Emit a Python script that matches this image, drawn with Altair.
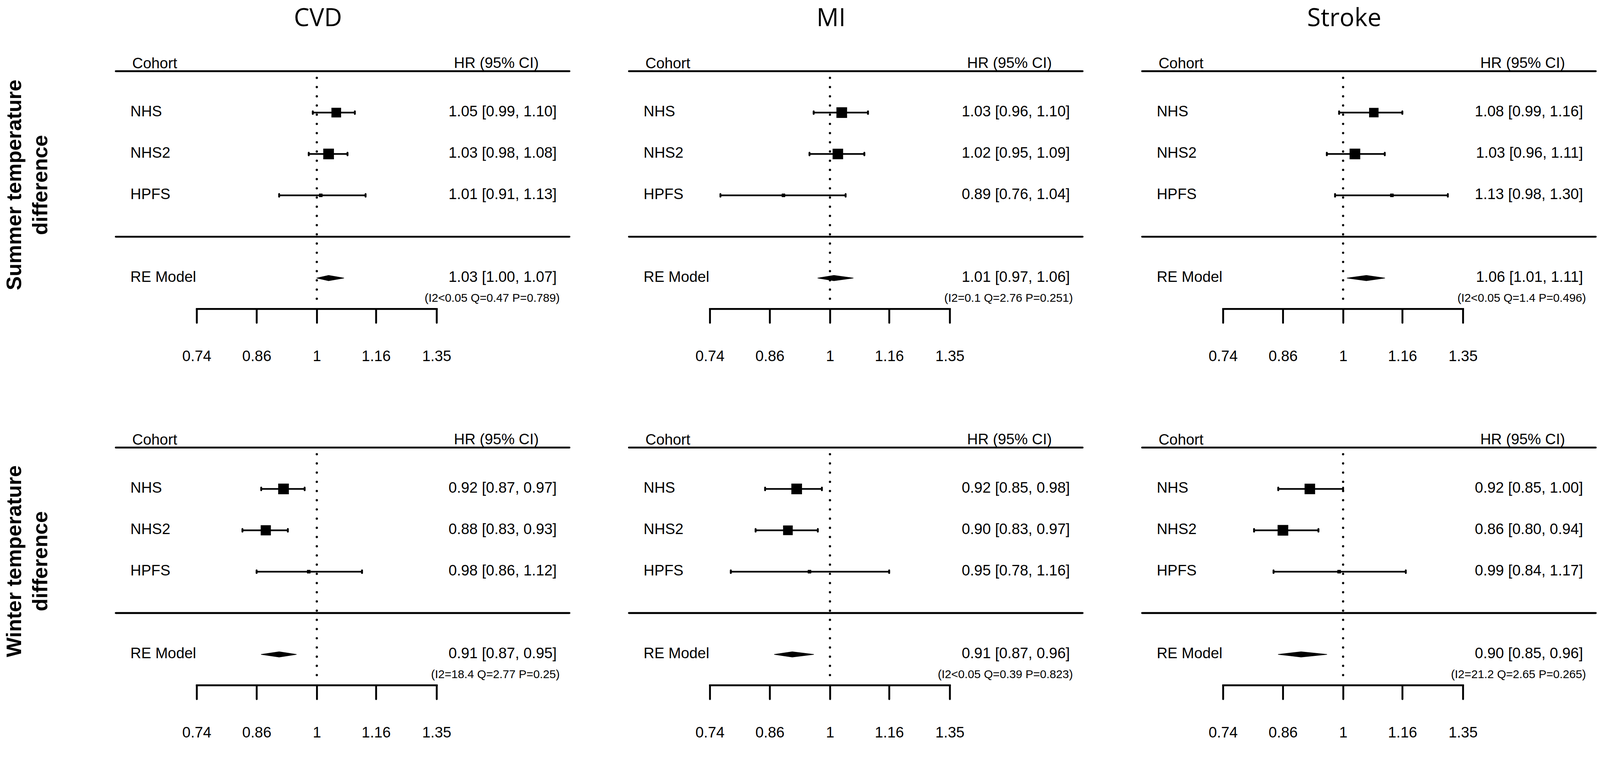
import altair as alt
import pandas as pd

# ---------------- data ----------------
outcomes = ["CVD", "MI", "Stroke"]
exposure_lines = [["Summer temperature", "difference"], ["Winter temperature", "difference"]]
cohorts = ["NHS", "NHS2", "HPFS"]
tick_values = [0.74, 0.86, 1, 1.16, 1.35]

# per outcome (CVD, MI, Stroke) -> per cohort (NHS, NHS2, HPFS)
summer_est = [[1.05, 1.03, 1.01], [1.03, 1.02, 0.89], [1.08, 1.03, 1.13]]
summer_lo = [[0.99, 0.98, 0.91], [0.96, 0.95, 0.76], [0.99, 0.96, 0.98]]
summer_hi = [[1.10, 1.08, 1.13], [1.10, 1.09, 1.04], [1.16, 1.11, 1.30]]
summer_weight = [[1.36, 1.50, 0.50], [1.50, 1.48, 0.50], [1.33, 1.50, 0.50]]
# RE model: [estimate, lower, upper]
summer_re = [[1.03, 1.00, 1.07], [1.01, 0.97, 1.06], [1.06, 1.01, 1.11]]
summer_het = ["(I2<0.05 Q=0.47 P=0.789)", "(I2=0.1 Q=2.76 P=0.251)", "(I2<0.05 Q=1.4 P=0.496)"]

winter_est = [[0.92, 0.88, 0.98], [0.92, 0.90, 0.95], [0.92, 0.86, 0.99]]
winter_lo = [[0.87, 0.83, 0.86], [0.85, 0.83, 0.78], [0.85, 0.80, 0.84]]
winter_hi = [[0.97, 0.93, 1.12], [0.98, 0.97, 1.16], [1.00, 0.94, 1.17]]
winter_weight = [[1.50, 1.43, 0.50], [1.50, 1.36, 0.50], [1.48, 1.50, 0.50]]
winter_re = [[0.91, 0.87, 0.95], [0.91, 0.87, 0.96], [0.90, 0.85, 0.96]]
winter_het = ["(I2=18.4 Q=2.77 P=0.25)", "(I2<0.05 Q=0.39 P=0.823)", "(I2=21.2 Q=2.65 P=0.265)"]

EST = [summer_est, winter_est]
LO = [summer_lo, winter_lo]
HI = [summer_hi, winter_hi]
WT = [summer_weight, winter_weight]
RE = [summer_re, winter_re]
HET = [summer_het, winter_het]

# ---------------- layout / style ----------------
FONT = "Liberation Sans"
TITLE_FONT = "Open Sans"
W = 1212
H = 635
ROW_PX = 110.6          # pixels per row unit (H / (4 + 1.742))
DIAMOND_HALF = 7 / ROW_PX
study_rows = [3, 2, 1]
re_row = -1
sep_rows = [4, 0]


def fmt_ci(e, l, h):
    return f"{e:.2f} [{l:.2f}, {h:.2f}]"


def panel(ei, oi):
    xs = alt.Scale(type="log", domain=[0.74, 1.35], range=[216, 857], nice=False)
    ys = alt.Scale(domain=[-1.742, 4], nice=False, zero=False)
    xax = alt.Axis(values=tick_values, format="~g", title=None, grid=False,
                   domainWidth=5, domainColor="black", domainCap="square",
                   tickWidth=5, tickColor="black", tickSize=37, tickCap="round",
                   labelFontSize=40, labelFont=FONT, labelColor="black",
                   labelPadding=70, labelFlush=False, labelOverlap=False,
                   labelBound=False, orient="bottom")

    est = EST[ei][oi]
    lo = LO[ei][oi]
    hi = HI[ei][oi]
    wt = WT[ei][oi]
    re_est, re_lo, re_hi = RE[ei][oi]

    studies = pd.DataFrame({
        "cohort": cohorts, "row": study_rows, "est": est, "lo": lo, "hi": hi,
        "w": wt, "txt": [fmt_ci(e, l, h) for e, l, h in zip(est, lo, hi)],
    })
    re_df = pd.DataFrame({"row": [re_row], "lab": ["RE Model"],
                          "txt": [fmt_ci(re_est, re_lo, re_hi)], "het": [HET[ei][oi]]})
    dia = pd.DataFrame({"dx": [re_lo, re_est, re_hi],
                        "ytop": [re_row, re_row + DIAMOND_HALF, re_row],
                        "ybot": [re_row, re_row - DIAMOND_HALF, re_row]})
    lines = pd.DataFrame({"row": sep_rows})
    ref = pd.DataFrame({"ref": [1], "y1": [3.84], "y2": [-1.5]})
    hdr = pd.DataFrame({"row": [4]})

    Y = lambda f: alt.Y(f, scale=ys, axis=None)
    X = lambda f: alt.X(f, scale=xs, axis=xax)

    layers = []
    layers.append(alt.Chart(lines).mark_rule(strokeWidth=5, strokeCap="round", color="black")
                  .encode(y=Y("row:Q"), x=alt.value(0), x2=alt.value(W)))
    layers.append(alt.Chart(ref).mark_rule(strokeWidth=6, strokeCap="round",
                                           strokeDash=[0.1, 24.5], color="black")
                  .encode(x=X("ref:Q"), y=Y("y1:Q"), y2="y2:Q"))
    layers.append(alt.Chart(studies).mark_rule(strokeWidth=4.5, color="black")
                  .encode(x=X("lo:Q"), x2="hi:Q", y=Y("row:Q")))
    layers.append(alt.Chart(studies).transform_fold(["lo", "hi"], as_=["k", "v"])
                  .mark_tick(orient="vertical", size=12, thickness=5, cornerRadius=2.5,
                             color="black", opacity=1)
                  .encode(x=X("v:Q"), y=Y("row:Q")))
    layers.append(alt.Chart(studies).mark_square(filled=True, opacity=1, color="black")
                  .encode(x=X("est:Q"), y=Y("row:Q"),
                          size=alt.Size("w:Q", scale=alt.Scale(type="pow", exponent=2,
                                                               domain=[0, 1.5], range=[0, 812]),
                                        legend=None)))
    layers.append(alt.Chart(dia).mark_area(color="black", opacity=1, orient="vertical",
                                           stroke="black", strokeWidth=1.5,
                                           strokeJoin="round")
                  .encode(x=X("dx:Q"), y=Y("ytop:Q"), y2="ybot:Q"))
    # texts
    layers.append(alt.Chart(studies).mark_text(align="left", baseline="alphabetic", dy=10,
                                               fontSize=40, font=FONT, color="black")
                  .encode(x=alt.value(39), y=Y("row:Q"), text="cohort:N"))
    layers.append(alt.Chart(studies).mark_text(align="right", baseline="alphabetic", dy=10,
                                               fontSize=40, font=FONT, color="black")
                  .encode(x=alt.value(1178), y=Y("row:Q"), text="txt:N"))
    layers.append(alt.Chart(re_df).mark_text(align="left", baseline="alphabetic", dy=10,
                                             fontSize=40, font=FONT, color="black")
                  .encode(x=alt.value(39), y=Y("row:Q"), text="lab:N"))
    layers.append(alt.Chart(re_df).mark_text(align="right", baseline="alphabetic", dy=10,
                                             fontSize=40, font=FONT, color="black")
                  .encode(x=alt.value(1178), y=Y("row:Q"), text="txt:N"))
    layers.append(alt.Chart(re_df).mark_text(align="right", baseline="alphabetic", dy=63,
                                             fontSize=31, font=FONT, color="black")
                  .encode(x=alt.value(1186), y=Y("row:Q"), text="het:N"))
    layers.append(alt.Chart(hdr).mark_text(align="left", baseline="alphabetic", dy=-8,
                                           fontSize=40, font=FONT, color="black", text="Cohort")
                  .encode(x=alt.value(44), y=Y("row:Q")))
    layers.append(alt.Chart(hdr).mark_text(align="right", baseline="alphabetic", dy=-9,
                                           fontSize=40, font=FONT, color="black",
                                           text="HR (95% CI)")
                  .encode(x=alt.value(1130), y=Y("row:Q")))
    one = pd.DataFrame({"t": [outcomes[oi]]})
    if ei == 0:
        layers.append(alt.Chart(one).mark_text(align="center", baseline="middle",
                                               fontSize=66, font=TITLE_FONT, color="black")
                      .encode(x=alt.value(540), y=alt.value(-141), text="t:N"))
    if oi == 0:
        lab = pd.DataFrame({"l1": [exposure_lines[ei][0]], "l2": [exposure_lines[ei][1]]})
        layers.append(alt.Chart(lab).mark_text(align="center", baseline="middle", angle=270,
                                               fontSize=56, fontWeight="bold", font=FONT,
                                               color="black")
                      .encode(x=alt.value(-270), y=alt.value(304), text="l1:N"))
        layers.append(alt.Chart(lab).mark_text(align="center", baseline="middle", angle=270,
                                               fontSize=56, fontWeight="bold", font=FONT,
                                               color="black")
                      .encode(x=alt.value(-200), y=alt.value(304), text="l2:N"))
    if ei == 0 and oi == 0:
        anchor = pd.DataFrame({"a": [0]})
        layers.append(alt.Chart(anchor).mark_rule(color="white", strokeWidth=1)
                      .encode(x=alt.value(-300), x2=alt.value(-299), y=alt.value(-183)))

    return alt.layer(*layers).properties(width=W, height=H)


panels = [panel(ei, oi) for ei in range(2) for oi in range(3)]

chart = alt.concat(*panels, columns=3, spacing={"row": 371, "column": 159},
                   bounds="flush").properties(
    padding={"left": 0, "top": -44, "right": 0, "bottom": 0}, background="white"
).configure_view(stroke=None)

chart.save("out.html", embed_options={"renderer": "svg", "actions": False})
